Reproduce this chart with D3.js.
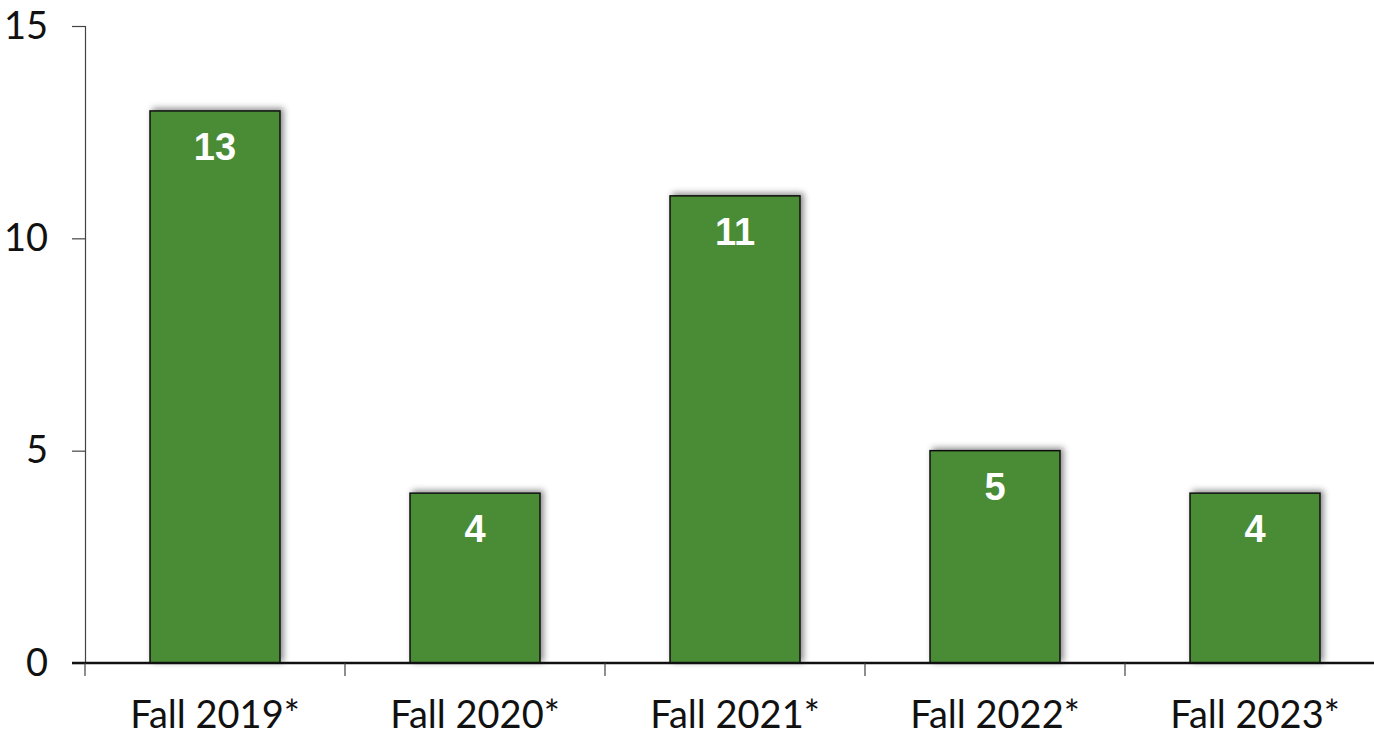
<!DOCTYPE html>
<html>
<head>
<meta charset="utf-8">
<script src="https://cdn.jsdelivr.net/npm/d3@7"></script>
<style>
  body { margin: 0; background: #fff; }
  svg { display: block; }
</style>
</head>
<body>
<div id="chart"></div>
<script>
// chart values
const categories = ["Fall 2019*", "Fall 2020*", "Fall 2021*", "Fall 2022*", "Fall 2023*"];
const values = [13, 4, 11, 5, 4];
const yTicks = [0, 5, 10, 15];

const width = 1374, height = 735;
const margin = {top: 26, right: 0, bottom: 72, left: 85};

const svg = d3.select('#chart').append('svg')
  .attr('width', width)
  .attr('height', height);

// soft shadow behind the bars
const defs = svg.append('defs');
const f = defs.append('filter').attr('id', 'shadow')
  .attr('x', '-20%').attr('y', '-20%').attr('width', '140%').attr('height', '140%');
f.append('feDropShadow')
  .attr('dx', 3).attr('dy', -2).attr('stdDeviation', 3)
  .attr('flood-color', '#000').attr('flood-opacity', 0.45);

const x = d3.scaleBand()
  .domain(categories)
  .range([margin.left, margin.left + 260 * categories.length])
  .paddingInner(0.5).paddingOuter(0.25);

const y = d3.scaleLinear()
  .domain([0, 15])
  .range([height - margin.bottom, margin.top]);

const labelFont = 'Lato, "DejaVu Sans", sans-serif';

// y axis
const yAxis = svg.append('g')
  .attr('transform', `translate(${margin.left},0)`)
  .call(d3.axisLeft(y).tickValues(yTicks).tickSize(13).tickPadding(24));
yAxis.select('.domain').attr('stroke', '#444').attr('stroke-width', 1.2);
yAxis.selectAll('.tick line').attr('stroke', '#444').attr('stroke-width', 1.2);
yAxis.selectAll('.tick text')
  .attr('fill', '#111')
  .style('font-family', labelFont)
  .style('font-size', '38px');

// bars
svg.append('g').selectAll('rect')
  .data(values)
  .join('rect')
  .attr('x', (d, i) => x(categories[i]))
  .attr('y', d => y(d))
  .attr('width', x.bandwidth())
  .attr('height', d => y(0) - y(d))
  .attr('fill', '#4a8c34')
  .attr('stroke', '#111')
  .attr('stroke-width', 1.5)
  .attr('filter', 'url(#shadow)');

// value labels
svg.append('g').selectAll('text')
  .data(values)
  .join('text')
  .attr('x', (d, i) => x(categories[i]) + x.bandwidth() / 2)
  .attr('y', d => y(d) + 49)
  .attr('text-anchor', 'middle')
  .attr('fill', '#fff')
  .style('font-family', '"Liberation Sans", Arial, sans-serif')
  .style('font-weight', 'bold')
  .style('font-size', '38px')
  .text(d => d);

// x axis with ticks between categories
const xAxisG = svg.append('g')
  .attr('transform', `translate(0,${y(0)})`);
xAxisG.append('line')
  .attr('x1', margin.left - 13).attr('x2', width)
  .attr('stroke', '#111').attr('stroke-width', 2.5);
const step = x.step();
xAxisG.selectAll('.sep')
  .data(d3.range(categories.length + 1))
  .join('line')
  .attr('x1', i => margin.left + i * step)
  .attr('x2', i => margin.left + i * step)
  .attr('y1', 0).attr('y2', 13)
  .attr('stroke', '#444').attr('stroke-width', 1.2);
xAxisG.selectAll('.lbl')
  .data(categories)
  .join('text')
  .attr('x', d => x(d) + x.bandwidth() / 2)
  .attr('y', 65)
  .attr('text-anchor', 'middle')
  .attr('fill', '#111')
  .style('font-family', labelFont)
  .style('font-size', '38px')
  .text(d => d);
</script>
</body>
</html>
